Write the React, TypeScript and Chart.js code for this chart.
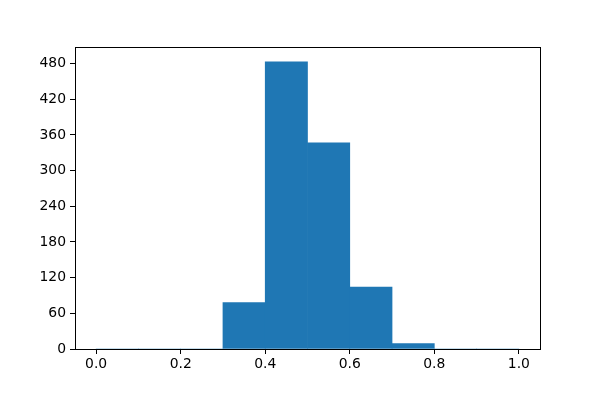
import React, { useEffect, useRef } from "react";
import { Chart, registerables } from "chart.js";

Chart.register(...registerables);

const binEdges = [0.0, 0.1, 0.2, 0.3, 0.4, 0.5, 0.6, 0.7, 0.8, 0.9, 1.0];
const counts = [0, 0, 0, 78, 483, 347, 104, 9, 0, 0];
const xTicks = [0.0, 0.2, 0.4, 0.6, 0.8, 1.0];
const yTicks = [0, 60, 120, 180, 240, 300, 360, 420, 480];

const frame = {
  id: "frame",
  afterDraw(chart: any) {
    const { ctx, chartArea } = chart;
    ctx.save();
    ctx.strokeStyle = "#000";
    ctx.lineWidth = 1;
    ctx.strokeRect(
      Math.round(chartArea.left) + 0.5,
      Math.round(chartArea.top) + 0.5,
      Math.round(chartArea.right - chartArea.left),
      Math.round(chartArea.bottom - chartArea.top)
    );
    ctx.restore();
  },
};

export default function App() {
  const ref = useRef<HTMLCanvasElement>(null);
  useEffect(() => {
    const data = counts.map((c, i) => ({ x: (binEdges[i] + binEdges[i + 1]) / 2, y: c }));
    const font = { family: "DejaVu Sans", size: 13.9 };
    const chart = new Chart(ref.current!, {
      type: "bar",
      data: {
        datasets: [
          {
            data,
            backgroundColor: "#1f77b4",
            borderWidth: 0,
            barPercentage: 1,
            categoryPercentage: 1,
          },
        ],
      },
      options: {
        animation: false,
        responsive: false,
        maintainAspectRatio: false,
        layout: { padding: { left: 0, top: 47, right: 60, bottom: 0 } },
        plugins: { legend: { display: false }, tooltip: { enabled: false } },
        scales: {
          x: {
            type: "linear",
            min: -0.05,
            max: 1.05,
            offset: false,
            afterBuildTicks: (s: any) => {
              s.ticks = xTicks.map((v) => ({ value: v }));
            },
            afterFit: (s: any) => {
              s.height = 51;
            },
            grid: { display: true, offset: false, drawOnChartArea: false, drawTicks: true, tickLength: 5, color: "#000" },
            border: { display: true, color: "#000", width: 1 },
            ticks: {
              color: "#000",
              font,
              padding: 2,
              maxRotation: 0,
              autoSkip: false,
              callback: (v: any) => Number(v).toFixed(1),
            },
          },
          y: {
            type: "linear",
            min: 0,
            max: 508,
            afterBuildTicks: (s: any) => {
              s.ticks = yTicks.map((v) => ({ value: v }));
            },
            afterFit: (s: any) => {
              s.width = 75;
            },
            grid: { display: true, drawOnChartArea: false, drawTicks: true, tickLength: 5, color: "#000" },
            border: { display: true, color: "#000", width: 1 },
            ticks: {
              color: "#000",
              font,
              padding: 4,
              autoSkip: false,
              callback: (v: any) => String(v),
            },
          },
        },
      },
      plugins: [frame],
    });
    return () => chart.destroy();
  }, []);
  return (
    <div style={{ position: "fixed", left: 0, top: 0, width: 600, height: 400, background: "#fff" }}>
      <canvas ref={ref} width={600} height={400} style={{ width: 600, height: 400 }} />
    </div>
  );
}
